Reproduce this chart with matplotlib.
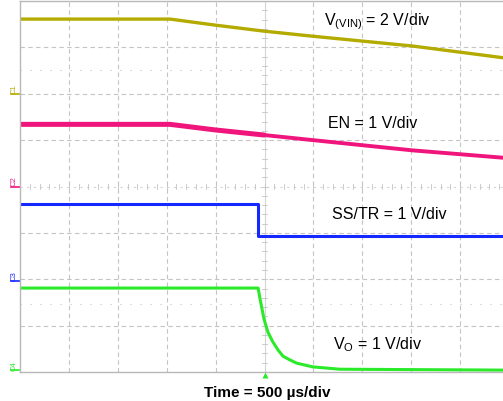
import matplotlib.pyplot as plt

plt.rcParams['font.family'] = ['Liberation Sans', 'DejaVu Sans']
plt.rcParams['mathtext.fontset'] = 'custom'
plt.rcParams['mathtext.rm'] = 'Liberation Sans'

# Traces in screen divisions (x: 0..10, y: 0..8)
vin_x = [0, 3.07, 3.99, 4.99, 5.99, 8.02, 10.0]
vin_y = [7.61, 7.61, 7.48, 7.35, 7.24, 7.03, 6.76]

en_x = [0, 3.07, 3.99, 4.99, 5.99, 8.02, 10.0]
en_y = [5.34, 5.34, 5.22, 5.11, 5.00, 4.78, 4.61]

ss_x = [0, 4.87, 4.87, 10.0]
ss_y = [3.62, 3.62, 2.93, 2.93]

vo_x = [0, 4.87, 4.91, 4.99, 5.07, 5.17, 5.28, 5.38, 5.52, 5.66, 5.99, 6.54, 10.0]
vo_y = [1.81, 1.81, 1.57, 1.14, 0.86, 0.65, 0.47, 0.34, 0.26, 0.19, 0.11, 0.06, 0.04]

labels = ['V$_{\\rm (VIN)}$ = 2 V/div', 'EN = 1 V/div', 'SS/TR = 1 V/div', 'V$_{\\rm O}$ = 1 V/div']
label_px = [(324, 22), (328, 124), (332, 215), (333, 345)]

colors = ['#b3ab00', '#f0157d', '#1428ff', '#2aea2a']
markers = ['C1', 'C2', 'C3', 'C4']
marker_y = [89, 181, 276, 366]
under_y = [95, 188, 282, 371]

W, H = 503, 402
fig = plt.figure(figsize=(W / 100, H / 100), dpi=100)
ax = fig.add_axes([20 / W, 29 / H, 489 / W, 371 / H])
ax.set_xlim(0, 10)
ax.set_ylim(0, 8)
ax.set_xticks([])
ax.set_yticks([])
for s in ax.spines.values():
    s.set_color('#b8b8b8')
    s.set_linewidth(1)

# grid
grid_c = '#c4c4c4'
for i in range(1, 10):
    if i != 5:
        ax.axvline(i, color=grid_c, lw=0.8, ls=(0, (4, 3)), zorder=0)
for j in range(1, 8):
    if j != 4:
        ax.axhline(j, color=grid_c, lw=0.8, ls=(0, (4, 3)), zorder=0)
ax.axvline(5, color='#d4d4d4', lw=0.8, zorder=0)
ax.axhline(4, color='#d4d4d4', lw=0.8, ls=(0, (2, 4)), zorder=0)
for k in range(1, 40):
    ax.plot([4.94, 5.06], [k * 0.2, k * 0.2], color=grid_c, lw=0.6, zorder=0)
for k in range(1, 50):
    ax.plot([k * 0.2, k * 0.2], [3.95, 4.05], color=grid_c, lw=0.6, zorder=0)
for yy in [6.51, 1.47]:
    ax.axhline(yy, color=grid_c, lw=0.8, ls=(0, (1, 8)), zorder=0)

# traces
ax.plot(vin_x, vin_y, color=colors[0], lw=2.4, solid_capstyle='butt')
ax.plot(en_x[:4], en_y[:4], color=colors[1], lw=3.6, solid_capstyle='round')
ax.plot(en_x[3:], en_y[3:], color=colors[1], lw=2.8, solid_capstyle='butt')
ax.plot(ss_x, ss_y, color=colors[2], lw=2.2, solid_capstyle='butt')
ax.plot(vo_x, vo_y, color=colors[3], lw=2.2, solid_capstyle='butt')

# trigger marker
ax.plot([5.0], [-0.06], marker='^', ms=4, color=colors[3], clip_on=False, mec='none')

for txt, (px, py) in zip(labels, label_px):
    fig.text(px / W, 1 - py / H, txt, fontsize=11.5, ha='left', va='center', color='black')

for m, c, my, uy in zip(markers, colors, marker_y, under_y):
    fig.text(14 / W, 1 - my / H, m, fontsize=5.5, rotation=90, ha='center', va='center', color=c)
    fig.add_artist(plt.Line2D([11 / W, 19 / W], [1 - uy / H, 1 - uy / H], color=c, lw=1.2))

fig.text(267 / W, 1 - 393 / H, 'Time = 500 \u00b5s/div', fontsize=11, fontweight='bold',
         ha='center', va='center')

fig.savefig('out.png', dpi=100)
